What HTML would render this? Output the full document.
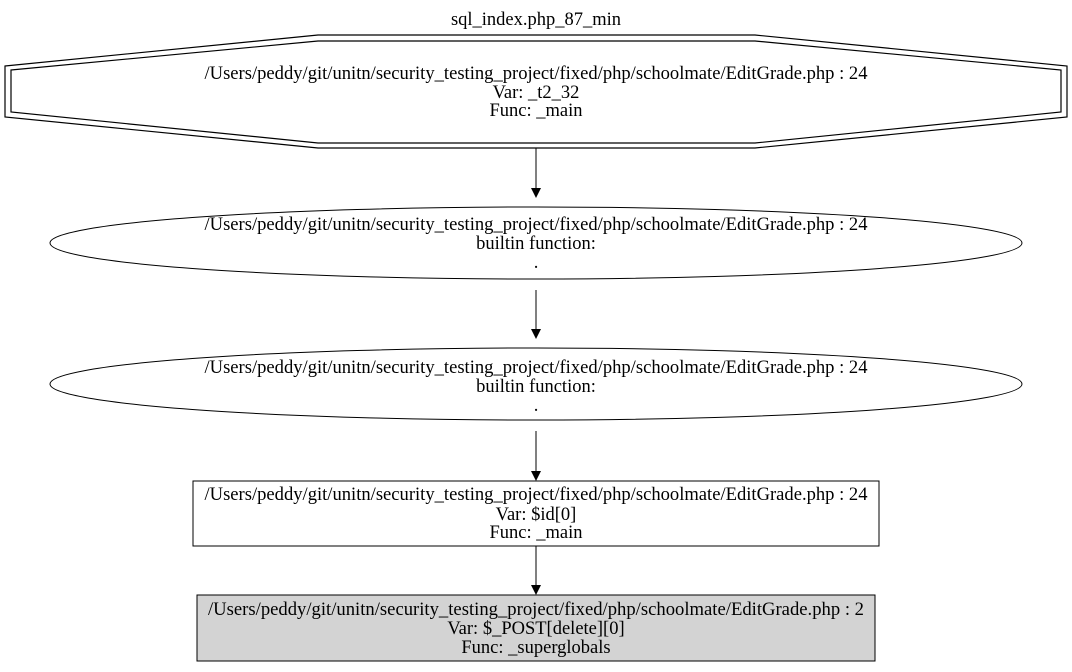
<!DOCTYPE html>
<html><head><style>body{margin:0;background:#fff}</style></head><body>
<svg width="1072" height="667" viewBox="0 0 1072 667" xmlns="http://www.w3.org/2000/svg" font-family="Liberation Serif, serif" font-size="18.5" text-anchor="middle">
<defs><marker id="a" markerWidth="10" markerHeight="10" refX="9" refY="5" orient="auto" markerUnits="userSpaceOnUse"><path d="M0,0 L10,5 L0,10 z" fill="#000"/></marker></defs>
<text x="536" y="25">sql_index.php_87_min</text>
<polygon points="5,66 318,35 755,35 1067,66 1067,117 755,148 318,148 5,117" fill="none" stroke="#000" stroke-width="1.2"/>
<polygon points="11,70 318,41 755,41 1061,70 1061,112 755,143 318,143 11,112" fill="none" stroke="#000" stroke-width="1.2"/>
<text x="536" y="79" textLength="663" lengthAdjust="spacingAndGlyphs">/Users/peddy/git/unitn/security_testing_project/fixed/php/schoolmate/EditGrade.php : 24</text>
<text x="536" y="98">Var: _t2_32</text>
<text x="536" y="116">Func: _main</text>
<line x1="536" y1="148" x2="536" y2="197" stroke="#000" marker-end="url(#a)"/>
<ellipse cx="536" cy="243" rx="486" ry="36" fill="none" stroke="#000"/>
<text x="536" y="230" textLength="663" lengthAdjust="spacingAndGlyphs">/Users/peddy/git/unitn/security_testing_project/fixed/php/schoolmate/EditGrade.php : 24</text>
<text x="536" y="249">builtin function:</text>
<text x="536" y="268">.</text>
<line x1="536" y1="290" x2="536" y2="338" stroke="#000" marker-end="url(#a)"/>
<ellipse cx="536" cy="384" rx="486" ry="36" fill="none" stroke="#000"/>
<text x="536" y="373" textLength="663" lengthAdjust="spacingAndGlyphs">/Users/peddy/git/unitn/security_testing_project/fixed/php/schoolmate/EditGrade.php : 24</text>
<text x="536" y="392">builtin function:</text>
<text x="536" y="411">.</text>
<line x1="536" y1="431" x2="536" y2="480" stroke="#000" marker-end="url(#a)"/>
<rect x="193" y="481" width="686" height="65" fill="none" stroke="#000"/>
<text x="536" y="500" textLength="663" lengthAdjust="spacingAndGlyphs">/Users/peddy/git/unitn/security_testing_project/fixed/php/schoolmate/EditGrade.php : 24</text>
<text x="536" y="520">Var: $id[0]</text>
<text x="536" y="538">Func: _main</text>
<line x1="536" y1="546" x2="536" y2="594" stroke="#000" marker-end="url(#a)"/>
<rect x="197" y="595" width="678" height="66" fill="#d3d3d3" stroke="#000"/>
<text x="536" y="615" textLength="656" lengthAdjust="spacingAndGlyphs">/Users/peddy/git/unitn/security_testing_project/fixed/php/schoolmate/EditGrade.php : 2</text>
<text x="536" y="634">Var: $_POST[delete][0]</text>
<text x="536" y="653">Func: _superglobals</text>
</svg>
</body></html>
